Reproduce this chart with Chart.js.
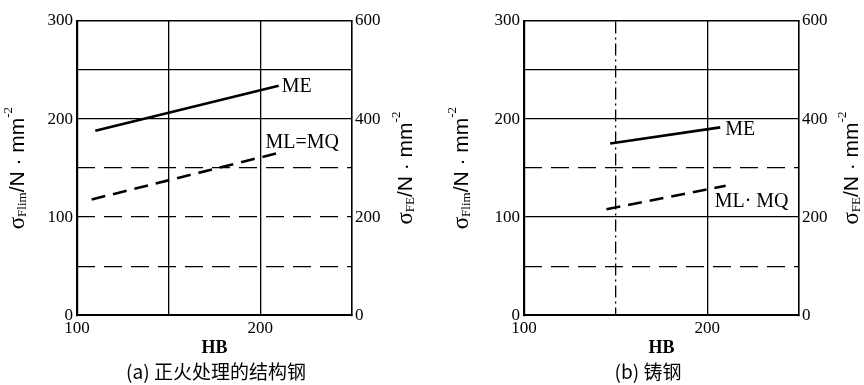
<!DOCTYPE html>
<html>
<head>
<meta charset="utf-8">
<script src="https://cdn.jsdelivr.net/npm/chart.js@4"></script>
<style>
  body { margin: 0; background: #fff; }
  .wrap { display: flex; width: 864px; height: 385px; }
  canvas { display: block; }
</style>
</head>
<body>
<div class="wrap">
  <canvas id="chart-a" width="432" height="385"></canvas>
  <canvas id="chart-b" width="432" height="385"></canvas>
</div>
<script>
// values
const hbTicks = [100, 200];
const leftTicks = [0, 100, 200, 300];
const rightTicks = [0, 200, 400, 600];

// (a) normalized structural steel
const hbA_ME = [110, 210];
const sigA_ME = [188, 234];
const hbA_ML = [108, 211];
const sigA_ML = [118, 166];

// (b) cast steel
const hbB_ME = [147, 207];
const sigB_ME = [175, 191.5];
const hbB_ML = [145, 210];
const sigB_ML = [108, 132];

const serif = 'Liberation Serif';
const clear = 'rgba(0,0,0,0)';

function pts(xs, ys) {
  return xs.map((x, i) => ({ x: x, y: ys[i] }));
}

// draws a run of text pieces (with sub/superscripts) centred at x,y, rotated
function drawRich(ctx, x, y, parts) {
  ctx.save();
  ctx.translate(x, y);
  ctx.rotate(-Math.PI / 2);
  ctx.fillStyle = '#000';
  ctx.textBaseline = 'middle';
  ctx.textAlign = 'left';
  let total = 0;
  parts.forEach(p => {
    ctx.font = p.size + 'px "' + (p.family || serif) + '"';
    p.w = ctx.measureText(p.t).width;
    total += p.w;
  });
  let cx = -total / 2;
  parts.forEach(p => {
    ctx.font = p.size + 'px "' + (p.family || serif) + '"';
    ctx.fillText(p.t, cx, p.dy || 0);
    cx += p.w;
  });
  ctx.restore();
}

const annotPlugin = {
  id: 'annot',
  afterDraw(chart, args, opts) {
    const ctx = chart.ctx;
    const area = chart.chartArea;
    const midY = (area.top + area.bottom) / 2;
    drawRich(ctx, area.left + opts.leftDx, midY, [
      { t: 'σ', size: 23 },
      { t: opts.leftSub, size: 13, dy: 5 },
      { t: '/N · mm', size: 21, family: 'Liberation Sans' },
      { t: '-2', size: 13, dy: -9 }
    ]);
    drawRich(ctx, area.right + opts.rightDx, midY, [
      { t: 'σ', size: 23 },
      { t: 'FE', size: 13, dy: 5 },
      { t: '/N · mm', size: 21, family: 'Liberation Sans' },
      { t: '-2', size: 13, dy: -9 }
    ]);
    // curve names next to the lines
    ctx.save();
    ctx.fillStyle = '#000';
    ctx.font = '20px "' + serif + '"';
    ctx.textBaseline = 'middle';
    ctx.textAlign = 'left';
    chart.data.datasets.forEach((ds, i) => {
      const meta = chart.getDatasetMeta(i);
      const last = meta.data[meta.data.length - 1];
      ctx.fillText(ds.tag, last.x + ds.tagDx, last.y + ds.tagDy);
    });
    ctx.restore();
  }
};

function makeChart(id, cfg) {
  return new Chart(document.getElementById(id), {
    type: 'line',
    data: {
      datasets: [
        {
          data: pts(cfg.meX, cfg.meY),
          tag: 'ME', tagDx: cfg.meTag[0], tagDy: cfg.meTag[1],
          borderColor: '#000', borderWidth: 2.6, pointRadius: 0, fill: false
        },
        {
          data: pts(cfg.mlX, cfg.mlY),
          tag: cfg.mlName, tagDx: cfg.mlTag[0], tagDy: cfg.mlTag[1],
          borderColor: '#000', borderWidth: 2.6, borderDash: [14, 8], pointRadius: 0, fill: false
        }
      ]
    },
    options: {
      responsive: false,
      animation: false,
      devicePixelRatio: 1,
      layout: { padding: { top: 21, left: 0, right: 0, bottom: 0 } },
      plugins: {
        legend: { display: false },
        tooltip: { enabled: false },
        title: {
          display: true,
          position: 'bottom',
          text: cfg.caption,
          color: '#000',
          font: { family: 'Noto Sans CJK SC', size: 19, weight: 'normal', lineHeight: 1.2 },
          padding: { top: 1, bottom: 2 }
        },
        annot: { leftDx: cfg.leftDx, rightDx: cfg.rightDx, leftSub: 'Flim' }
      },
      scales: {
        x: {
          type: 'linear', position: 'bottom', min: 100, max: 250,
          ticks: {
            stepSize: 50, color: '#000', padding: 3,
            font: { family: serif, size: 17 },
            callback: v => hbTicks.includes(v) ? v : ''
          },
          grid: {
            drawTicks: false, lineWidth: 1.3,
            color: c => c.tick && cfg.solidX.includes(c.tick.value) ? '#000' : clear
          },
          border: { color: '#000', width: 2 },
          title: {
            display: true, text: 'HB', color: '#000',
            font: { family: serif, size: 18, weight: 'bold', lineHeight: 1.2 },
            padding: { top: 0, bottom: 0 }
          },
          afterFit: s => { s.height = 44; }
        },
        x2: {
          type: 'linear', position: 'top', min: 100, max: 250,
          ticks: { display: false, stepSize: 50 },
          grid: {
            drawTicks: false, lineWidth: 1.3,
            color: c => c.tick && cfg.dashX.includes(c.tick.value) ? '#000' : clear
          },
          border: { color: '#000', width: 1.6, dash: [12, 4, 2, 4] },
          afterFit: s => { s.height = 0; }
        },
        y: {
          type: 'linear', position: 'left', min: 0, max: 300,
          ticks: {
            stepSize: 50, color: '#000', padding: 4,
            font: { family: serif, size: 17 },
            callback: v => leftTicks.includes(v) ? v : ''
          },
          grid: {
            drawTicks: false, lineWidth: 1.3,
            color: c => c.tick && cfg.solidY.includes(c.tick.value) ? '#000' : clear
          },
          border: { color: '#000', width: 2.2 },
          afterFit: s => { s.width = cfg.leftW; }
        },
        y2: {
          type: 'linear', position: 'right', min: 0, max: 600,
          ticks: {
            stepSize: 100, color: '#000', padding: 3,
            font: { family: serif, size: 17 },
            callback: v => rightTicks.includes(v) ? v : ''
          },
          grid: {
            drawTicks: false, lineWidth: 1.3,
            color: c => c.tick && cfg.dashY.includes(c.tick.value / 2) ? '#000' : clear
          },
          border: { color: '#000', width: 1.6, dash: [18, 9] },
          afterFit: s => { s.width = cfg.rightW; }
        }
      }
    },
    plugins: [annotPlugin]
  });
}

makeChart('chart-a', {
  caption: '(a) 正火处理的结构钢',
  meX: hbA_ME, meY: sigA_ME, mlX: hbA_ML, mlY: sigA_ML,
  mlName: 'ML=MQ', meTag: [3, 1], mlTag: [-15, -10],
  solidX: [150, 200], dashX: [],
  solidY: [250, 200], dashY: [150, 100, 50],
  leftW: 77, rightW: 80, leftDx: -59, rightDx: 54
});

makeChart('chart-b', {
  caption: '(b) 铸钢',
  meX: hbB_ME, meY: sigB_ME, mlX: hbB_ML, mlY: sigB_ML,
  mlName: 'ML· MQ', meTag: [5, 2], mlTag: [-11, 16],
  solidX: [200], dashX: [150],
  solidY: [250, 200, 100], dashY: [150, 50],
  leftW: 92, rightW: 65, leftDx: -62, rightDx: 53
});
</script>
</body>
</html>
